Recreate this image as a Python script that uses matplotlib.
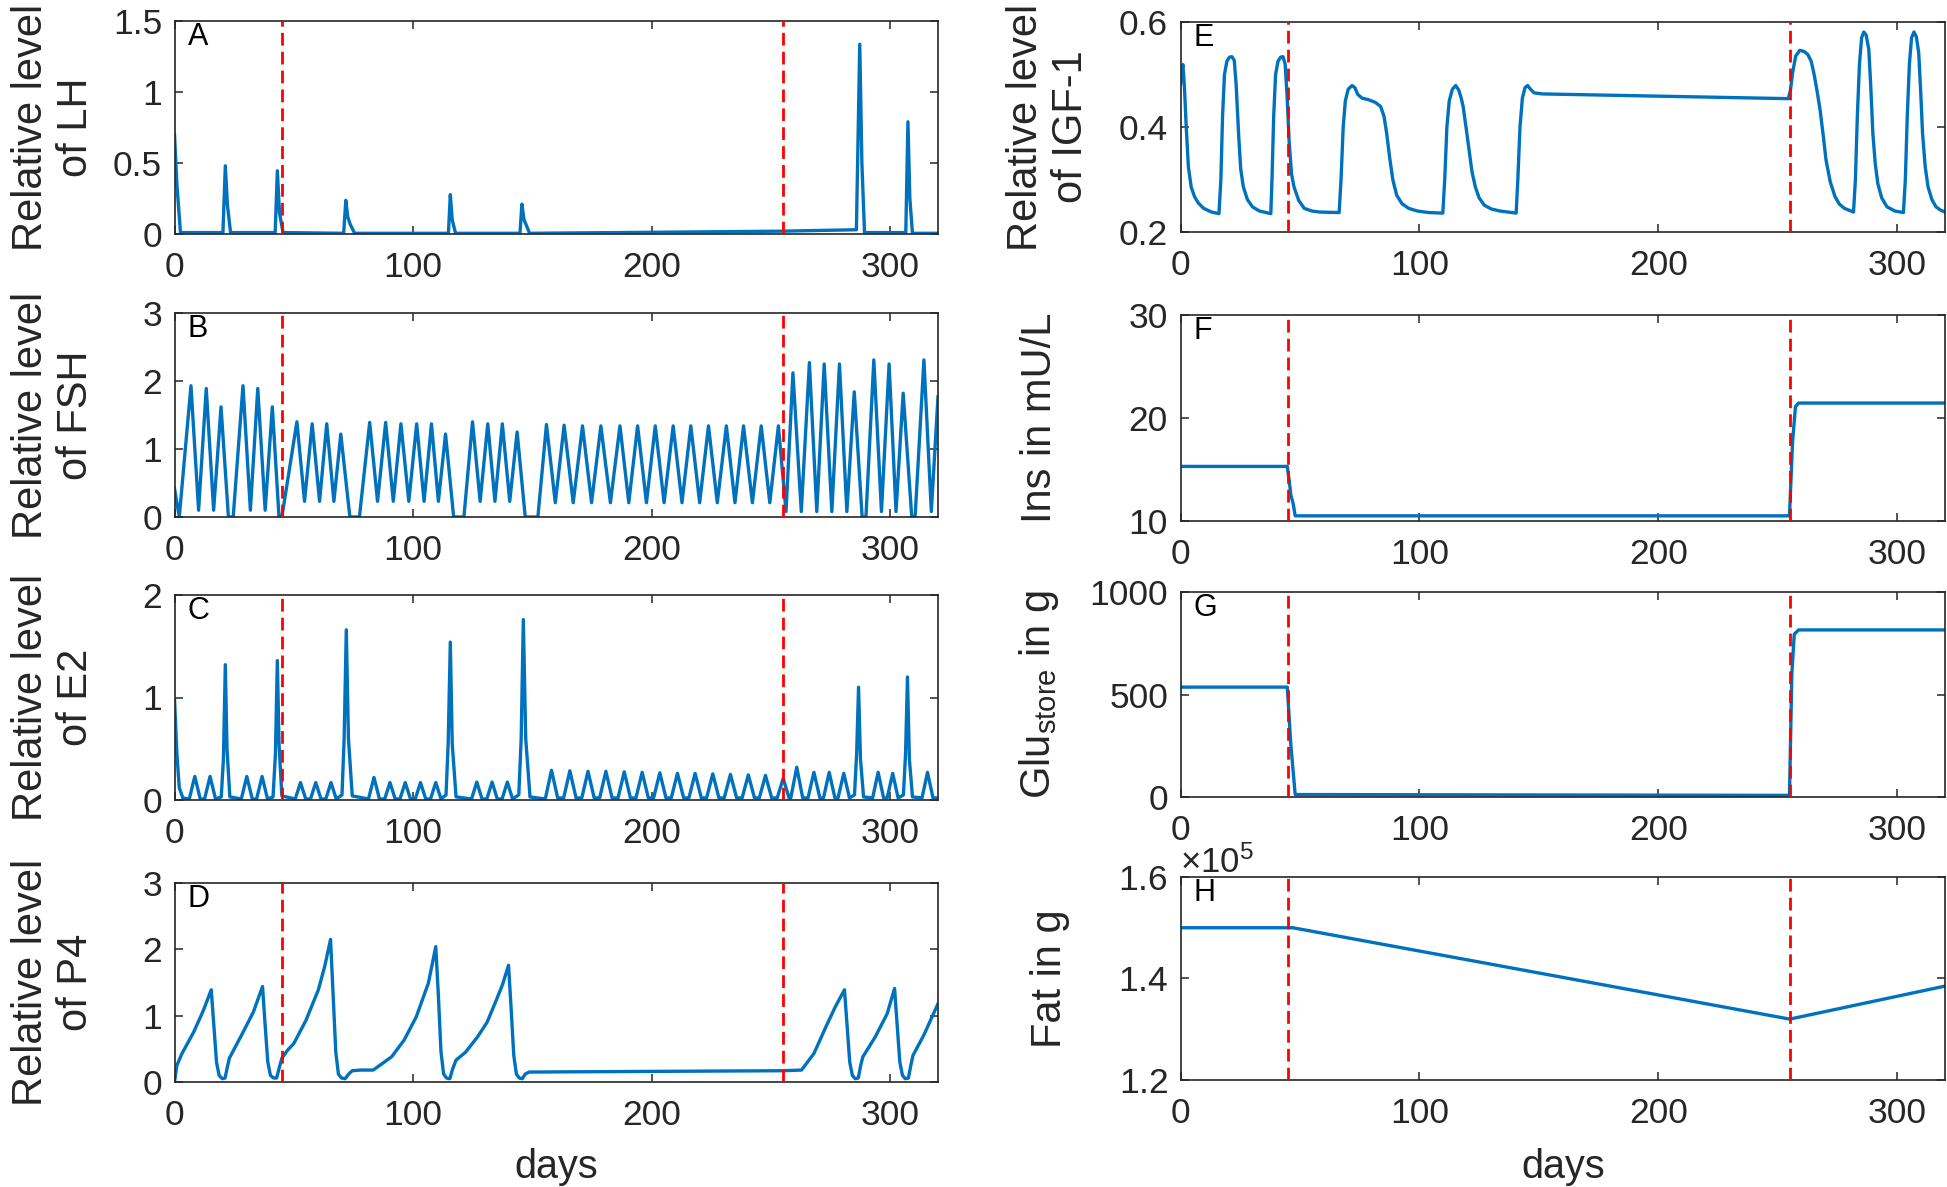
import matplotlib
matplotlib.use("Agg")
import matplotlib.pyplot as plt
from matplotlib.ticker import FuncFormatter, ScalarFormatter

plt.rcParams['font.family'] = ['Liberation Sans', 'DejaVu Sans']
plt.rcParams['mathtext.default'] = 'regular'

# ---------------- data ----------------
x_limits = (0, 320)
x_ticks = [0, 100, 200, 300]
switch_days = [45, 255]

lh_days = [0, 1, 2.5, 20.3, 21.3, 22.2, 23.5,
           42.2, 43.1, 44.0, 45.5,
           70.9, 71.8, 72.6, 73.6, 75.5,
           114.8, 115.6, 116.4, 117.8,
           144.8, 145.6, 146.5, 147.5, 148.8,
           200, 255, 285.8, 287.2, 288.1, 289.2,
           306.5, 307.4, 308.2, 309.3, 320]
lh_vals = [0.70, 0.35, 0.01, 0.01, 0.48, 0.20, 0.01,
           0.01, 0.445, 0.15, 0.01,
           0.005, 0.237, 0.12, 0.07, 0.005,
           0.005, 0.277, 0.10, 0.005,
           0.005, 0.21, 0.10, 0.06, 0.005,
           0.012, 0.02, 0.03, 1.336, 0.50, 0.01,
           0.01, 0.79, 0.25, 0.005, 0.005]

fsh_days = [0, 2.0, 6.9, 10.1, 13.3, 16.4, 19.5, 22.6, 24.6,
            28.7, 31.8, 34.9, 38.0, 41.0, 43.8, 45.0,
            51.3, 54.5, 57.7, 60.8, 63.8, 66.8, 69.7, 73.5, 77.5,
            81.8, 85.1, 88.5, 91.7, 94.9, 98.2, 101.5, 104.6, 107.7, 110.6, 113.6, 117.0, 121.3,
            124.9, 128.1, 131.3, 134.3, 137.4, 140.5, 143.6, 147.0, 152.3,
            155.9, 159.6, 163.3, 167.1, 171.0, 174.8, 178.7, 182.7, 186.7, 190.4,
            194.1, 197.8, 201.5, 205.2, 209.0, 212.7, 216.4, 220.1, 223.8, 227.5,
            231.3, 234.9, 238.5, 242.2, 245.9, 249.5, 253.1, 256.3,
            259.2, 262.7, 266.1, 269.2, 272.3, 275.5, 278.7, 281.8, 284.9, 288.2, 289.8,
            293.1, 296.3, 299.5, 302.4, 305.4, 309.0, 310.4,
            314.1, 317.2, 320]
fsh_vals = [0.42, 0.0, 1.93, 0.10, 1.89, 0.10, 1.62, 0.0, 0.0,
            1.93, 0.10, 1.89, 0.10, 1.62, 0.0, 0.0,
            1.40, 0.23, 1.37, 0.23, 1.37, 0.23, 1.22, 0.0, 0.0,
            1.39, 0.23, 1.39, 0.23, 1.37, 0.23, 1.37, 0.23, 1.37, 0.23, 1.22, 0.0, 0.0,
            1.40, 0.23, 1.37, 0.23, 1.37, 0.23, 1.25, 0.0, 0.0,
            1.36, 0.21, 1.35, 0.21, 1.34, 0.21, 1.34, 0.21, 1.34, 0.21,
            1.34, 0.21, 1.34, 0.21, 1.34, 0.21, 1.34, 0.21, 1.34, 0.21,
            1.34, 0.21, 1.34, 0.21, 1.34, 0.21, 1.34, 0.08,
            2.12, 0.08, 2.27, 0.08, 2.25, 0.08, 2.25, 0.08, 1.84, 0.0, 0.0,
            2.31, 0.08, 2.25, 0.08, 1.82, 0.0, 0.0,
            2.31, 0.08, 1.77]

e2_days = [0, 1, 2, 3.5, 6.2, 8.5, 10.8, 12.6, 14.9, 17.2, 19.6, 20.5, 21.3, 22.0, 23.2,
           28.0, 30.3, 32.6, 34.4, 36.7, 39.0, 41.3, 42.3, 43.1, 43.8, 45.0,
           50.6, 52.8, 55.0, 57.0, 59.2, 61.4, 63.4, 65.6, 67.8, 70.2, 71.1, 72.0, 72.9, 74.5,
           81.3, 83.6, 85.9, 88.1, 90.3, 92.5, 94.5, 96.7, 98.9, 100.9, 103.1, 105.3, 107.3, 109.5, 111.7,
           113.8, 114.7, 115.6, 116.4, 118.0,
           124.5, 126.7, 128.9, 130.9, 133.1, 135.3, 137.3, 139.5, 141.7, 144.3, 145.3, 146.2, 147.2, 149.0,
           155.4, 158.0, 160.6, 163.1, 165.7, 168.3, 170.7, 173.3, 175.9, 178.2, 180.8, 183.4, 185.9, 188.5, 191.1,
           193.4, 196.0, 198.6, 200.8, 203.4, 206.0, 208.2, 210.8, 213.4, 215.6, 218.2, 220.8, 223.0, 225.6, 228.2,
           230.4, 233.0, 235.6, 237.9, 240.5, 243.1, 245.1, 247.7, 250.3, 252.6, 255.1, 257.6,
           258.3, 260.8, 263.3, 265.5, 268.0, 270.5, 272.0, 274.4, 276.8, 278.1, 280.5, 282.9,
           285.0, 285.9, 286.7, 287.5, 288.8, 292.6, 294.9, 297.2, 298.7, 301.0, 303.3, 305.5, 306.4, 307.2, 308.0, 309.3,
           313.3, 315.6, 317.9, 320]
e2_vals = [0.99, 0.45, 0.12, 0.02, 0.01, 0.23, 0.01, 0.01, 0.23, 0.01, 0.03, 0.4, 1.32, 0.5, 0.03,
           0.01, 0.23, 0.01, 0.01, 0.23, 0.01, 0.03, 0.45, 1.36, 0.55, 0.04,
           0.01, 0.17, 0.01, 0.01, 0.17, 0.01, 0.01, 0.17, 0.01, 0.05, 0.6, 1.66, 0.6, 0.04,
           0.01, 0.22, 0.01, 0.01, 0.17, 0.01, 0.01, 0.17, 0.01, 0.01, 0.17, 0.01, 0.01, 0.17, 0.01,
           0.05, 0.55, 1.54, 0.55, 0.03,
           0.01, 0.175, 0.01, 0.01, 0.175, 0.01, 0.01, 0.175, 0.01, 0.05, 0.6, 1.76, 0.6, 0.03,
           0.01, 0.29, 0.02, 0.02, 0.285, 0.02, 0.02, 0.28, 0.02, 0.02, 0.28, 0.02, 0.02, 0.275, 0.02,
           0.02, 0.27, 0.02, 0.02, 0.265, 0.02, 0.02, 0.26, 0.02, 0.02, 0.26, 0.02, 0.02, 0.255, 0.02,
           0.02, 0.25, 0.02, 0.02, 0.245, 0.02, 0.02, 0.24, 0.02, 0.02, 0.21, 0.02,
           0.02, 0.32, 0.02, 0.02, 0.27, 0.02, 0.02, 0.27, 0.02, 0.02, 0.26, 0.02,
           0.05, 0.45, 1.10, 0.4, 0.03, 0.02, 0.27, 0.02, 0.02, 0.26, 0.02, 0.05, 0.45, 1.20, 0.4, 0.03,
           0.02, 0.27, 0.02, 0.02]

p4_days = [0, 1, 3, 8, 12, 15.4,
           16.5, 17.6, 18.7, 20.0, 21.2, 22.0, 23.0,
           28, 33, 36.9,
           38.0, 39.1, 40.2, 41.5, 42.8, 43.8, 45.0, 47.4,
           50, 55.1, 60.3, 63.0, 65.4,
           66.5, 67.6, 68.7, 70.0, 71.5, 73.0, 74.5, 78, 83.3,
           91, 96.2, 101.3, 106.4, 109.5,
           110.6, 111.7, 112.8, 114.0, 115.4, 116.6, 118.0,
           122, 127, 131, 134.6, 137.5, 140,
           141.1, 142.2, 143.3, 144.5, 145.8, 147.0, 148.7, 200, 255, 262.8,
           268, 273, 276.9, 280.8,
           281.9, 283.0, 284.1, 285.3, 286.6, 287.6, 288.5,
           293.7, 298.7, 301.8,
           302.9, 304.0, 305.1, 306.3, 307.6, 308.6, 309.5,
           314.1, 320]
p4_vals = [0, 0.25, 0.42, 0.75, 1.07, 1.39,
           0.85, 0.3, 0.1, 0.05, 0.06, 0.2, 0.36,
           0.7, 1.05, 1.44,
           0.85, 0.3, 0.1, 0.06, 0.06, 0.2, 0.36, 0.48,
           0.58, 0.93, 1.39, 1.75, 2.15,
           1.3, 0.45, 0.12, 0.06, 0.05, 0.12, 0.17, 0.18, 0.18,
           0.38, 0.63, 0.98, 1.49, 2.04,
           1.3, 0.45, 0.12, 0.06, 0.05, 0.2, 0.33,
           0.45, 0.68, 0.9, 1.21, 1.47, 1.76,
           1.1, 0.4, 0.12, 0.06, 0.05, 0.12, 0.15, 0.16, 0.17, 0.18,
           0.43, 0.83, 1.13, 1.39,
           0.85, 0.3, 0.1, 0.05, 0.06, 0.25, 0.38,
           0.68, 1.03, 1.41,
           0.85, 0.3, 0.1, 0.05, 0.06, 0.25, 0.40,
           0.71, 1.18]

igf_days = [0, 0.5, 1, 1.6, 2.4, 3.3, 4.5, 5.9, 7.5, 9.7, 13, 16.1,
            16.9, 17.6, 18.4, 19.4, 20.5, 21.5, 22.5, 23.3, 24.3, 25.2, 26.3, 28, 30.1, 33, 37.8,
            38.3, 39.0, 39.8, 40.8, 41.9, 42.9, 43.8, 44.6, 45.5, 46.5, 47.5, 49.5, 51.8, 55, 58.2, 66.4,
            67.2, 68.1, 69.0, 70.2, 71.8, 73.0, 74.2, 76, 78.7, 81.5, 83.8, 85.2, 86.3, 87.6, 88.9,
            90.5, 92.7, 95.5, 99.1, 104, 109.8,
            110.6, 111.5, 112.5, 113.8, 115.2, 116.5, 117.5, 118.3, 119.5, 120.8, 122, 123.4,
            125, 127.2, 130, 133.6, 140.5,
            141.2, 142.1, 143.1, 144.2, 145.3, 146.5, 148.0, 151.4, 254.4,
            255.3, 256.2, 257.5, 259.2, 261, 262.6, 264, 265.1, 266.4, 267.7, 269, 270.2,
            272, 274, 275.8, 277.9, 281.7,
            282.5, 283.3, 284.2, 285.1, 286.0, 287.0, 288.1, 288.9, 289.8, 290.8, 291.9,
            293.5, 295.7, 299, 302.6,
            303.4, 304.2, 305.1, 306.0, 307.0, 308.0, 309.0, 309.8, 310.6, 311.7, 312.9,
            314.5, 316.2, 318, 320]
igf_vals = [0.481, 0.505, 0.519, 0.48, 0.40, 0.324, 0.285, 0.267, 0.255, 0.245, 0.238, 0.235,
            0.30, 0.42, 0.50, 0.525, 0.533, 0.534, 0.527, 0.48, 0.388, 0.32, 0.286, 0.262, 0.248, 0.240, 0.235,
            0.30, 0.42, 0.50, 0.525, 0.533, 0.534, 0.52, 0.46, 0.37, 0.31, 0.286, 0.26, 0.245, 0.24, 0.238, 0.237,
            0.30, 0.40, 0.45, 0.472, 0.479, 0.475, 0.462, 0.455, 0.452, 0.447, 0.439, 0.42, 0.388, 0.34, 0.299,
            0.27, 0.254, 0.245, 0.240, 0.237, 0.236,
            0.30, 0.40, 0.45, 0.472, 0.479, 0.47, 0.455, 0.439, 0.40, 0.356, 0.315, 0.286,
            0.265, 0.251, 0.244, 0.240, 0.236,
            0.30, 0.40, 0.455, 0.475, 0.479, 0.472, 0.465, 0.463, 0.454,
            0.47, 0.503, 0.535, 0.546, 0.544, 0.538, 0.525, 0.503, 0.47, 0.433, 0.385, 0.337,
            0.295, 0.267, 0.253, 0.245, 0.238,
            0.30, 0.42, 0.52, 0.57, 0.581, 0.575, 0.548, 0.48, 0.388, 0.33, 0.292,
            0.265, 0.248, 0.24, 0.237,
            0.30, 0.42, 0.52, 0.57, 0.581, 0.572, 0.541, 0.47, 0.388, 0.325, 0.286,
            0.262, 0.248, 0.242, 0.238]

ins_days = [0, 44.7, 45.5, 46.2, 47.2, 48.0, 254.4, 254.9, 256.2, 257.4, 258.7, 320]
ins_vals = [15.3, 15.3, 13.9, 12.5, 11.65, 10.5, 10.5, 10.5, 17.7, 21.1, 21.45, 21.45]

glu_days = [0, 44.7, 46.2, 48.0, 254.4, 254.9, 255.9, 256.9, 258.7, 320]
glu_vals = [536, 536, 253, 12, 8, 10, 602, 794, 815, 815]

fat_days = [0, 47, 255, 320]
fat_vals = [1.50e5, 1.50e5, 1.32e5, 1.385e5]

panel_letters = ['A', 'B', 'C', 'D', 'E', 'F', 'G', 'H']
y_labels = ['Relative level\nof LH', 'Relative level\nof FSH', 'Relative level\nof E2',
            'Relative level\nof P4', 'Relative level\nof IGF-1', 'Ins in mU/L',
            'Glu$_{store}$ in g', 'Fat in g']
y_limits = [(0, 1.5), (0, 3), (0, 2), (0, 3), (0.2, 0.6), (10, 30), (0, 1000), (1.2e5, 1.6e5)]
y_ticks = [[0, 0.5, 1, 1.5], [0, 1, 2, 3], [0, 1, 2], [0, 1, 2, 3],
           [0.2, 0.4, 0.6], [10, 20, 30], [0, 500, 1000], [1.2e5, 1.4e5, 1.6e5]]
x_label = 'days'

series = [(lh_days, lh_vals), (fsh_days, fsh_vals), (e2_days, e2_vals), (p4_days, p4_vals),
          (igf_days, igf_vals), (ins_days, ins_vals), (glu_days, glu_vals), (fat_days, fat_vals)]

# ---------------- layout ----------------
W, H = 1947, 1187
fig = plt.figure(figsize=(W / 100, H / 100), dpi=100)

left_cols = [(174.5, 938.0)] * 4 + [(1180.5, 1945.0)] * 4
rows = [(21, 234), (313, 517), (595, 800), (883, 1082),
        (22, 232), (315, 521), (592, 797), (877, 1080)]
ylabel_x = [-0.103, -0.103, -0.103, -0.103, -0.117, -0.158, -0.156, -0.144]

gray = '#262626'
blue = '#0072BD'

for i in range(8):
    x0, x1 = left_cols[i]
    yt, yb = rows[i]
    ax = fig.add_axes([x0 / W, 1 - yb / H, (x1 - x0) / W, (yb - yt) / H])
    xs, ys = series[i]
    ax.plot(xs, ys, color=blue, lw=2.4, solid_joinstyle='round', zorder=2)
    for d in switch_days:
        ax.axvline(d, color='red', lw=2.0, linestyle=(0, (4.6, 2.2)), zorder=3)
    ax.set_xlim(*x_limits)
    ax.set_ylim(*y_limits[i])
    ax.set_xticks(x_ticks)
    ax.set_yticks(y_ticks[i])
    if i == 7:
        fmt = ScalarFormatter(useMathText=True)
        fmt.set_powerlimits((0, 0))
        ax.yaxis.set_major_formatter(fmt)
        ax.yaxis.get_offset_text().set_fontsize(25)
        ax.yaxis.get_offset_text().set_color(gray)
    else:
        ax.yaxis.set_major_formatter(FuncFormatter(lambda v, p: '%g' % v))
    ax.tick_params(direction='in', length=5.8, width=1.1, top=True, right=True,
                   labelsize=25.5, colors=gray)
    ax.tick_params(axis='y', pad=9)
    ax.tick_params(axis='x', pad=12)
    for s in ax.spines.values():
        s.set_linewidth(1.2)
        s.set_color(gray)
    ax.set_ylabel(y_labels[i], fontsize=30, color=gray, linespacing=1.15)
    ax.yaxis.set_label_coords(ylabel_x[i], 0.5)
    ax.annotate(panel_letters[i], xy=(0, 1), xycoords='axes fraction',
                xytext=(9.4, -17.3), textcoords='offset points',
                ha='left', va='baseline', fontsize=22, color='black')
    if i in (3, 7):
        ax.set_xlabel(x_label, fontsize=28.5, color=gray)
        ax.xaxis.set_label_coords(0.5, -0.330 if i == 3 else -0.334)

fig.savefig('out.png', dpi=100)
